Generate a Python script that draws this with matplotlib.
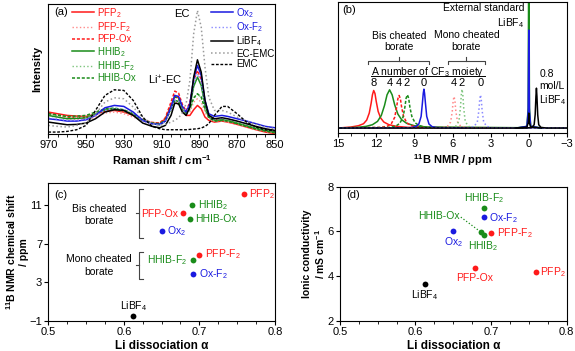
import matplotlib
matplotlib.use('Agg')
import matplotlib.pyplot as plt
from matplotlib.ticker import MultipleLocator

plt.rcParams['font.family'] = ['Liberation Sans', 'DejaVu Sans']
plt.rcParams['mathtext.fontset'] = 'custom'
plt.rcParams['mathtext.rm'] = 'Liberation Sans'
plt.rcParams['mathtext.it'] = 'Liberation Sans:italic'
plt.rcParams['mathtext.bf'] = 'Liberation Sans:bold'
plt.rcParams['mathtext.default'] = 'regular'

RED = '#ff1a1a'
GREEN = '#1a8c1a'
BLUE = '#1a1ae0'
LRED = '#ff8a8a'
LGREEN = '#7cc47c'
LBLUE = '#8a8aff'
GREY = '#9a9a9a'

# ---------------- (a) Raman spectra ----------------
raman_x = [970, 965, 960, 955, 950, 945, 940, 935, 930, 925, 920, 915, 911, 908, 905, 903,
           901, 899, 897, 895, 893, 891, 889, 887, 885, 882, 878, 875, 870, 865, 860, 855, 850]
raman_pfp2 = [65, 60, 55, 53, 52, 58, 68, 70, 65, 55, 40, 32, 30, 45, 85, 112,
              108, 75, 55, 55, 72, 85, 75, 50, 40, 35, 38, 35, 28, 20, 12, 5, 0]
raman_pfpf2 = [55, 50, 45, 43, 42, 50, 62, 65, 60, 50, 38, 30, 28, 40, 70, 95,
               92, 70, 55, 65, 95, 105, 95, 65, 45, 38, 38, 35, 28, 20, 12, 6, 2]
raman_pfpox = [62, 56, 50, 48, 48, 60, 72, 75, 70, 58, 42, 34, 32, 48, 95, 128,
               122, 88, 68, 95, 160, 190, 162, 95, 55, 42, 42, 38, 30, 22, 15, 8, 3]
raman_hhib2 = [55, 50, 45, 46, 48, 60, 72, 75, 70, 58, 40, 30, 27, 38, 75, 100,
               97, 72, 60, 82, 142, 170, 145, 85, 50, 40, 42, 40, 32, 24, 16, 10, 4]
raman_hhibf2 = [58, 54, 50, 50, 50, 60, 70, 72, 67, 55, 40, 32, 30, 40, 70, 90,
                88, 68, 58, 70, 105, 120, 108, 70, 48, 38, 40, 38, 30, 22, 14, 8, 4]
raman_hhibox = [60, 56, 52, 53, 55, 65, 75, 77, 72, 60, 42, 32, 30, 42, 80, 110,
                107, 78, 62, 75, 108, 120, 110, 75, 50, 38, 40, 38, 30, 22, 14, 8, 3]
raman_ox2 = [45, 42, 38, 38, 42, 55, 78, 85, 82, 65, 40, 30, 28, 38, 80, 115,
             112, 82, 65, 90, 165, 205, 175, 100, 60, 52, 55, 52, 45, 38, 30, 22, 18]
raman_oxf2 = [48, 44, 40, 40, 44, 55, 70, 75, 72, 58, 38, 28, 26, 36, 72, 100,
              97, 72, 60, 85, 150, 180, 155, 90, 52, 44, 46, 44, 38, 30, 22, 15, 10]
raman_libf4 = [35, 31, 27, 28, 32, 45, 65, 72, 70, 55, 32, 22, 18, 25, 55, 92,
               90, 65, 55, 80, 170, 222, 185, 100, 55, 45, 48, 45, 38, 30, 22, 15, 10]
raman_ecemc = [25, 22, 20, 25, 32, 60, 95, 108, 105, 80, 48, 30, 25, 28, 35, 40,
               48, 62, 90, 160, 300, 370, 320, 200, 110, 70, 70, 65, 50, 38, 28, 20, 15]
raman_emc = [5, 5, 7, 12, 25, 70, 115, 132, 130, 100, 50, 22, 15, 12, 12, 12,
             12, 12, 12, 13, 14, 15, 17, 22, 30, 55, 82, 82, 60, 35, 20, 12, 8]
raman_ticks = [970, 950, 930, 910, 890, 870, 850]

# ---------------- (b) 11B NMR ----------------
nmr_pfp2_x = [15, 14.0, 13.4, 13.0, 12.75, 12.55, 12.4, 12.3, 12.2, 12.1, 12.0, 11.85, 11.65, 11.4, 11.0, 10.4, 9.5, -3]
nmr_pfp2_y = [0, 3, 7, 13, 24, 45, 75, 100, 113, 104, 80, 50, 30, 18, 10, 5, 2, 0]
nmr_hhib2_x = [15, 13.5, 12.8, 12.3, 11.9, 11.6, 11.35, 11.15, 10.95, 10.75, 10.55, 10.3, 10.0, 9.6, 9.0, 8.0, -3]
nmr_hhib2_y = [0, 2, 5, 10, 20, 38, 68, 100, 115, 100, 70, 42, 25, 14, 7, 3, 0]
nmr_pfpox_x = [15, 11.6, 11.1, 10.8, 10.55, 10.4, 10.3, 10.2, 10.1, 10.0, 9.85, 9.6, 9.3, 8.8, 8.0, -3]
nmr_pfpox_y = [0, 2, 6, 14, 32, 62, 88, 98, 88, 62, 35, 16, 8, 3, 1, 0]
nmr_hhibox_x = [15, 10.9, 10.45, 10.15, 9.9, 9.75, 9.65, 9.55, 9.45, 9.35, 9.2, 8.95, 8.65, 8.2, 7.5, -3]
nmr_hhibox_y = [0, 2, 6, 14, 32, 62, 90, 100, 90, 62, 35, 16, 8, 3, 1, 0]
nmr_ox2_x = [15, 9.3, 8.9, 8.65, 8.47, 8.37, 8.3, 8.25, 8.2, 8.13, 8.03, 7.85, 7.6, 7.2, -3]
nmr_ox2_y = [0, 1, 4, 12, 35, 75, 105, 117, 105, 75, 35, 12, 4, 1, 0]
nmr_pfpf2_x = [15, 6.8, 6.4, 6.15, 6.02, 5.95, 5.88, 5.81, 5.74, 5.6, 5.35, 4.9, -3]
nmr_pfpf2_y = [0, 1, 5, 18, 50, 82, 95, 82, 50, 18, 5, 1, 0]
nmr_hhibf2_x = [15, 6.15, 5.75, 5.5, 5.38, 5.31, 5.25, 5.19, 5.12, 5.0, 4.75, 4.3, -3]
nmr_hhibf2_y = [0, 1, 5, 20, 60, 100, 117, 100, 60, 20, 5, 1, 0]
nmr_oxf2_x = [15, 4.7, 4.3, 4.05, 3.93, 3.86, 3.8, 3.74, 3.67, 3.55, 3.3, 2.9, -3]
nmr_oxf2_y = [0, 1, 5, 18, 52, 86, 100, 86, 52, 18, 5, 1, 0]
nmr_std_x = [1.0, 0.15, 0.05, 0.0, -0.05, -0.15, -1.0]
nmr_std_green_y = [0, 5, 60, 600, 60, 5, 0]
nmr_std_blue_y = [0, 5, 50, 295, 50, 5, 0]
nmr_std_black_y = [0, 3, 15, 45, 15, 3, 0]
nmr_libf4_x = [15, 0.2, -0.25, -0.42, -0.5, -0.56, -0.6, -0.64, -0.7, -0.78, -0.95, -1.4, -3]
nmr_libf4_y = [0, 0, 2, 10, 40, 95, 120, 95, 40, 10, 2, 0, 0]

cf3_pos = [12.2, 10.95, 10.2, 9.6, 8.3, 5.9, 5.25, 3.8]
cf3_num = ['8', '4', '4', '2', '0', '4', '2', '0']

# ---------------- (c), (d) scatter ----------------
names = ['PFP$_2$', 'PFP-F$_2$', 'PFP-Ox', 'HHIB$_2$', 'HHIB-F$_2$', 'HHIB-Ox', 'Ox$_2$', 'Ox-F$_2$', 'LiBF$_4$']
colors = [RED, RED, RED, GREEN, GREEN, GREEN, BLUE, BLUE, 'black']
li_alpha = [0.759, 0.700, 0.679, 0.690, 0.691, 0.687, 0.650, 0.691, 0.612]
b_shift = [12.18, 5.87, 10.2, 11.0, 5.35, 9.58, 8.29, 3.85, -0.48]
conductivity = [4.19, 5.92, 4.37, 5.84, 7.07, 5.96, 6.0, 6.63, 3.65]

fig = plt.figure(figsize=(5.75, 3.51), dpi=100)


def style(ax):
    for s in ax.spines.values():
        s.set_linewidth(0.8)
    ax.tick_params(which='major', direction='out', length=3, width=0.8, labelsize=8, pad=1.5)
    ax.tick_params(which='minor', direction='out', length=2, width=0.6)


# ---- (a)
ax = fig.add_axes([0.084, 0.619, 0.394, 0.370])
series = [
    (raman_pfp2, RED, '-', 1.1, 'PFP$_2$', RED),
    (raman_pfpf2, LRED, ':', 1.0, 'PFP-F$_2$', RED),
    (raman_pfpox, RED, (0, (2, 1.2)), 1.1, 'PFP-Ox', RED),
    (raman_hhib2, GREEN, '-', 1.1, 'HHIB$_2$', GREEN),
    (raman_hhibf2, LGREEN, ':', 1.0, 'HHIB-F$_2$', GREEN),
    (raman_hhibox, GREEN, (0, (2, 1.2)), 1.1, 'HHIB-Ox', GREEN),
    (raman_ox2, BLUE, '-', 1.1, 'Ox$_2$', BLUE),
    (raman_oxf2, LBLUE, ':', 1.0, 'Ox-F$_2$', BLUE),
    (raman_libf4, 'black', '-', 1.1, 'LiBF$_4$', 'black'),
    (raman_ecemc, GREY, ':', 1.1, 'EC-EMC', 'black'),
    (raman_emc, 'black', (0, (2, 1.2)), 1.0, 'EMC', 'black'),
]
lines = []
for y, c, ls, lw, lab, tc in series:
    ln, = ax.plot(raman_x, y, color=c, ls=ls, lw=lw, label=lab)
    lines.append(ln)
ax.set_xlim(970, 850)
ax.set_ylim(0, 390)
ax.set_yticks([])
ax.set_xticks(raman_ticks)
ax.xaxis.set_minor_locator(MultipleLocator(5))
style(ax)
ax.set_xlabel('Raman shift / cm$^{-1}$', fontsize=8, fontweight='bold', labelpad=2)
ax.set_ylabel('Intensity', fontsize=8, fontweight='bold', labelpad=4)
legkw = dict(frameon=False, fontsize=7, handlelength=2.3, handletextpad=0.3,
             labelspacing=0.05, borderpad=0, borderaxespad=0)
leg1 = ax.legend(handles=lines[:6], loc='upper left', bbox_to_anchor=(0.103, 0.985), **legkw)
ax.add_artist(leg1)
leg2 = ax.legend(handles=lines[6:], loc='upper left', bbox_to_anchor=(0.716, 0.985), **legkw)
for leg, ss in ((leg1, series[:6]), (leg2, series[6:])):
    for t, s in zip(leg.get_texts(), ss):
        t.set_color(s[5])
ax.text(963, 365, '(a)', fontsize=8, ha='center', va='center')
ax.text(899, 360, 'EC', fontsize=8, ha='center', va='center')
ax.text(908, 160, 'Li$^{+}$-EC', fontsize=8, ha='center', va='center')

# ---- (b)
bx = fig.add_axes([0.588, 0.621, 0.398, 0.374])
nmr = [
    (nmr_pfp2_x, nmr_pfp2_y, RED, '-'),
    (nmr_hhib2_x, nmr_hhib2_y, GREEN, '-'),
    (nmr_pfpox_x, nmr_pfpox_y, RED, (0, (2, 1.2))),
    (nmr_hhibox_x, nmr_hhibox_y, GREEN, (0, (2, 1.2))),
    (nmr_ox2_x, nmr_ox2_y, BLUE, '-'),
    (nmr_pfpf2_x, nmr_pfpf2_y, LRED, ':'),
    (nmr_hhibf2_x, nmr_hhibf2_y, LGREEN, ':'),
    (nmr_oxf2_x, nmr_oxf2_y, LBLUE, ':'),
    (nmr_std_x, nmr_std_green_y, GREEN, '-'),
    (nmr_std_x, nmr_std_blue_y, BLUE, '-'),
    (nmr_std_x, nmr_std_black_y, 'black', '-'),
    (nmr_libf4_x, nmr_libf4_y, 'black', '-'),
]
for x, y, c, ls in nmr:
    bx.plot(x, y, color=c, ls=ls, lw=1.1)
bx.set_xlim(15, -3)
bx.set_ylim(-15, 380)
bx.set_yticks([])
bx.xaxis.set_major_locator(MultipleLocator(3))
bx.xaxis.set_minor_locator(MultipleLocator(1))
style(bx)
bx.set_xlabel('$^{11}$B NMR / ppm', fontsize=8, fontweight='bold', labelpad=2)
bx.text(14.1, 355, '(b)', fontsize=8, ha='center', va='center')
for p, n in zip(cf3_pos, cf3_num):
    bx.text(p, 135, n, fontsize=8, ha='center', va='center')
cf3 = bx.text(7.93, 170, 'A number of CF$_3$ moiety', fontsize=7.5, ha='center', va='center')
bx.text(10.22, 260, 'Bis cheated\nborate', fontsize=7.5, ha='center', va='center', linespacing=1.2)
bx.text(4.91, 262, 'Mono cheated\nborate', fontsize=7.5, ha='center', va='center', linespacing=1.2)
for x0, x1 in ((12.62, 7.82), (6.37, 3.46)):
    bx.plot([x0, x0, x1, x1], [193, 203, 203, 193], color='#444444', lw=0.8)
    bx.plot([(x0 + x1) / 2] * 2, [203, 213], color='#444444', lw=0.8)
bx.text(0.34, 336, 'External standard\nLiBF$_4$', fontsize=7.5, ha='right', va='center',
        multialignment='right', linespacing=1.3)
bx.text(-0.84, 121, '0.8\nmol/L\nLiBF$_4$', fontsize=7.5, ha='left', va='center', linespacing=1.2)

# ---- (c)
cx = fig.add_axes([0.084, 0.0855, 0.394, 0.3925])
for a, b, c in zip(li_alpha, b_shift, colors):
    cx.plot(a, b, 'o', color=c, ms=4.2, mec='none')
cx.set_xlim(0.5, 0.8)
cx.set_ylim(-1, 13.3)
cx.set_yticks([-1, 3, 7, 11])
cx.xaxis.set_major_locator(MultipleLocator(0.1))
cx.xaxis.set_minor_locator(MultipleLocator(0.025))
style(cx)
cx.set_xlabel('Li dissociation α', fontsize=8.5, fontweight='bold', labelpad=2)
cx.set_ylabel('$^{11}$B NMR chemical shift\n/ ppm', fontsize=7.5, fontweight='bold', linespacing=1.1)
cx.yaxis.set_label_coords(-0.085, 0.5)
c_lab = {
    'PFP$_2$': (0.7656, 12.14, 'left'), 'HHIB$_2$': (0.6985, 11.0, 'left'),
    'PFP-Ox': (0.672, 10.14, 'right'), 'HHIB-Ox': (0.694, 9.62, 'left'),
    'Ox$_2$': (0.6575, 8.3, 'left'), 'PFP-F$_2$': (0.708, 5.94, 'left'),
    'HHIB-F$_2$': (0.684, 5.35, 'right'), 'Ox-F$_2$': (0.6995, 3.86, 'left'),
    'LiBF$_4$': (0.6125, 0.5, 'center'),
}
for n, c in zip(names, colors):
    x, y, ha = c_lab[n]
    cx.text(x, y, n, color=c, fontsize=7.5, ha=ha, va='center')
for y0, y1 in ((12.73, 7.60), (6.21, 3.33)):
    cx.plot([0.6248, 0.6204, 0.6204, 0.6248], [y0, y0, y1, y1], color='#444444', lw=0.8)
    cx.plot([0.6204, 0.616], [(y0 + y1) / 2] * 2, color='#444444', lw=0.8)
cx.text(0.567, 10.0, 'Bis cheated\nborate', fontsize=7.5, ha='center', va='center', linespacing=1.3)
cx.text(0.567, 4.75, 'Mono cheated\nborate', fontsize=7.5, ha='center', va='center', linespacing=1.3)
cx.text(0.5168, 12.1, '(c)', fontsize=8, ha='center', va='center')

# ---- (d)
dx = fig.add_axes([0.591, 0.0855, 0.3946, 0.3826])
for a, k, c in zip(li_alpha, conductivity, colors):
    dx.plot(a, k, 'o', color=c, ms=4.2, mec='none')
dx.set_xlim(0.5, 0.8)
dx.set_ylim(2, 8)
dx.set_yticks([2, 4, 6, 8])
dx.xaxis.set_major_locator(MultipleLocator(0.1))
dx.xaxis.set_minor_locator(MultipleLocator(0.025))
style(dx)
dx.set_xlabel('Li dissociation α', fontsize=8.5, fontweight='bold', labelpad=2)
dx.set_ylabel('Ionic conductivity\n/ mS cm$^{-1}$', fontsize=7.5, fontweight='bold', linespacing=1.1)
dx.yaxis.set_label_coords(-0.055, 0.5)
d_lab = {
    'PFP$_2$': (0.765, 4.2, 'left'), 'HHIB$_2$': (0.690, 5.35, 'center'),
    'PFP-Ox': (0.678, 3.91, 'center'), 'HHIB-Ox': (0.659, 6.70, 'right'),
    'Ox$_2$': (0.650, 5.54, 'center'), 'PFP-F$_2$': (0.708, 5.92, 'left'),
    'HHIB-F$_2$': (0.691, 7.48, 'center'), 'Ox-F$_2$': (0.697, 6.61, 'left'),
    'LiBF$_4$': (0.6125, 3.16, 'center'),
}
for n, c in zip(names, colors):
    x, y, ha = d_lab[n]
    dx.text(x, y, n, color=c, fontsize=7.5, ha=ha, va='center')
i_ox = names.index('HHIB-Ox')
dx.plot([0.660, li_alpha[i_ox]], [6.64, conductivity[i_ox]], color=GREEN, ls=':', lw=0.9)
dx.text(0.5175, 7.62, '(d)', fontsize=8, ha='center', va='center')

# underline for the CF3 label
fig.canvas.draw()
bb = cf3.get_window_extent().transformed(bx.transData.inverted())
bx.plot([bb.x0, bb.x1], [157, 157], color='black', lw=0.7)

fig.savefig('out.png', dpi=100)
